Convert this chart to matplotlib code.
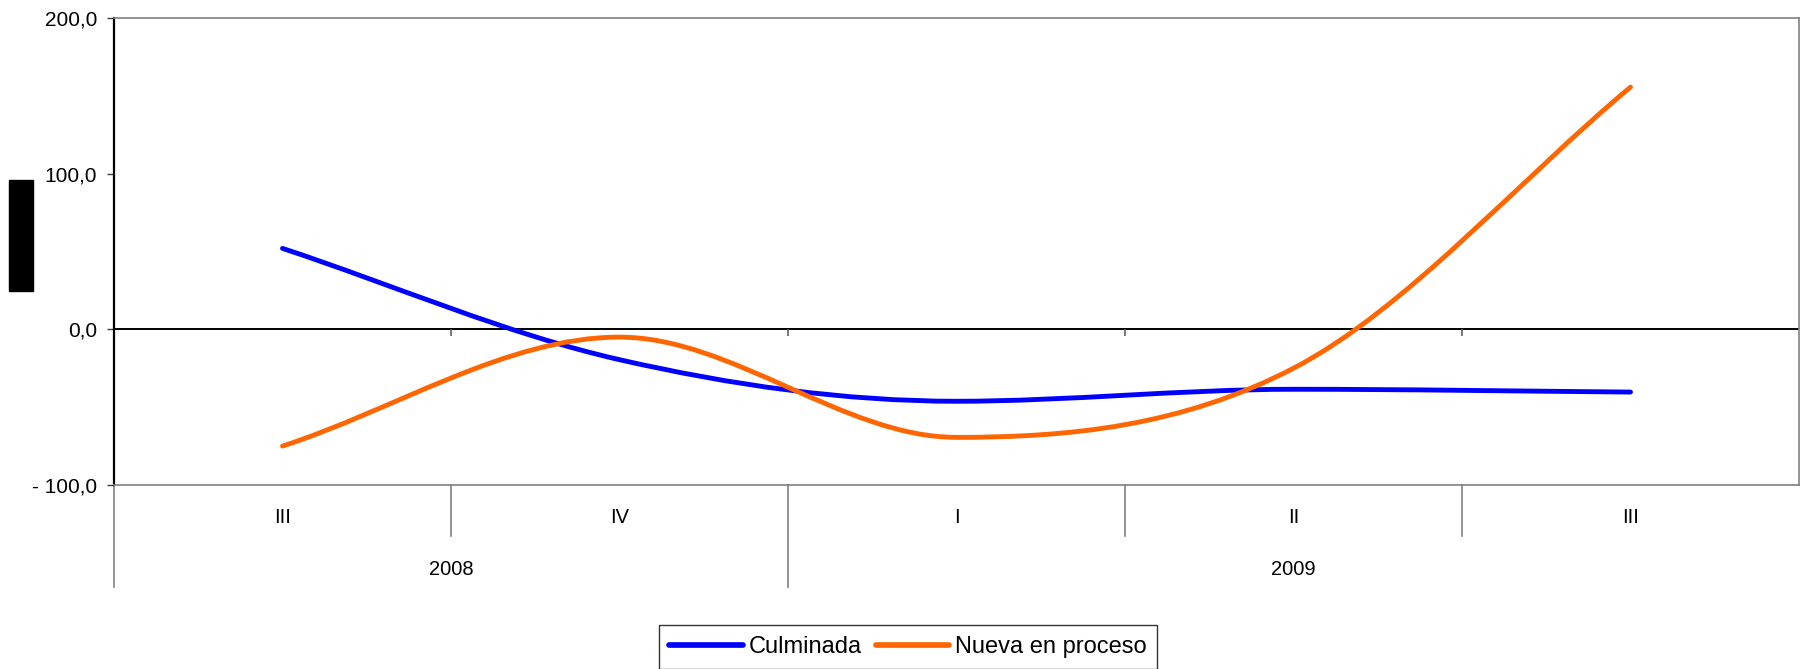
import matplotlib
matplotlib.use('Agg')
import matplotlib.pyplot as plt
from matplotlib.path import Path
from matplotlib.patches import PathPatch, Rectangle
from matplotlib.lines import Line2D
import matplotlib.transforms as mtransforms

plt.rcParams['font.family'] = ['Liberation Sans', 'DejaVu Sans']

# ---- data ----
quarters = ['III', 'IV', 'I', 'II', 'III']
years = ['2008', '2009']
year_spans = [(0, 1), (2, 4)]          # first and last quarter index of each year
culminada = [52.0, -19.5, -46.2, -38.5, -40.3]
nueva = [-75.0, -5.0, -69.4, -25.0, 155.6]
series_names = ['Culminada', 'Nueva en proceso']
series_colors = ['#0000FF', '#FF6600']
yticks = [-100, 0, 100, 200]
ytick_labels = ['- 100,0', '0,0', '100,0', '200,0']

W, H = 1801, 669
fig = plt.figure(figsize=(W / 100, H / 100), dpi=100)
ax = fig.add_axes([114 / W, 1 - 485 / H, (1799 - 114) / W, (485 - 18) / H])

xs = list(range(len(quarters)))


def smooth_path(xv, yv):
    """Bezier curve through the data points (tangents flattened at local extrema)."""
    n = len(xv)
    m = []
    for i in range(n):
        if i == 0:
            slope = (yv[1] - yv[0]) / (xv[1] - xv[0])
        elif i == n - 1:
            slope = (yv[-1] - yv[-2]) / (xv[-1] - xv[-2])
        else:
            slope = (yv[i + 1] - yv[i - 1]) / (xv[i + 1] - xv[i - 1])
            if (yv[i] - yv[i - 1]) * (yv[i + 1] - yv[i]) <= 0:
                slope = 0.0
        m.append(slope)
    verts = [(xv[0], yv[0])]
    codes = [Path.MOVETO]
    for i in range(n - 1):
        h = xv[i + 1] - xv[i]
        c1 = (xv[i] + h / 3, yv[i] + m[i] * h / 3)
        c2 = (xv[i + 1] - h / 3, yv[i + 1] - m[i + 1] * h / 3)
        verts += [c1, c2, (xv[i + 1], yv[i + 1])]
        codes += [Path.CURVE4] * 3
    return Path(verts, codes)


LW = 3.5
for vals, col in zip([culminada, nueva], series_colors):
    p = PathPatch(smooth_path(xs, vals), fill=False, edgecolor=col, lw=LW,
                  capstyle='round', joinstyle='round', zorder=3)
    ax.add_patch(p)

ax.set_xlim(-0.5, len(quarters) - 0.5)
ax.set_ylim(-100, 200)
ax.set_yticks(yticks)
ax.set_yticklabels(ytick_labels, fontsize=15)
ax.tick_params(axis='y', direction='out', length=5, width=1, color='#404040', pad=7)
ax.set_xticks([])

for s in ['top', 'right', 'bottom']:
    ax.spines[s].set_color('#808080')
    ax.spines[s].set_linewidth(1.2)
ax.spines['left'].set_color('black')
ax.spines['left'].set_linewidth(1.6)

# category axis line at zero with small boundary ticks
ax.axhline(0, color='black', lw=1.4, zorder=2)
bounds = [i + 0.5 for i in range(len(quarters) - 1)]
ax.vlines(bounds, -4, 0, color='#606060', lw=1.2, zorder=2)

# multi-level category labels below
trans = mtransforms.blended_transform_factory(ax.transData, ax.transAxes)
for x, q in zip(xs, quarters):
    ax.text(x, -0.070, q, transform=trans, ha='center', va='center', fontsize=14.5)
for yr, (a, b) in zip(years, year_spans):
    ax.text((a + b) / 2, -0.180, yr, transform=trans, ha='center', va='center', fontsize=14.5)

year_ends = [b for (a, b) in year_spans[:-1]]
for bx in bounds:
    bottom = -0.218 if any(abs(bx - (e + 0.5)) < 1e-9 for e in year_ends) else -0.109
    ax.plot([bx, bx], [0, bottom], transform=trans, color='#808080', lw=1.2, clip_on=False)
ax.plot([-0.5, -0.5], [0, -0.218], transform=trans, color='#808080', lw=1.2, clip_on=False)

# legend
handles = [Line2D([], [], color=c, lw=LW + 0.6, solid_capstyle='round') for c in series_colors]
leg = fig.legend(handles, series_names, loc='center', ncol=2,
                 bbox_to_anchor=(908 / W, 1 - 647 / H), fontsize=17,
                 frameon=True, fancybox=False, edgecolor='black',
                 handlelength=3.1, handletextpad=0.25, columnspacing=0.6,
                 borderpad=0.45, borderaxespad=0)
leg.get_frame().set_linewidth(1.0)

# black box at left
fig.add_artist(Rectangle((9 / W, 1 - 291 / H), 24 / W, 111 / H,
                         transform=fig.transFigure, color='black'))

fig.savefig('out.png', dpi=100)
